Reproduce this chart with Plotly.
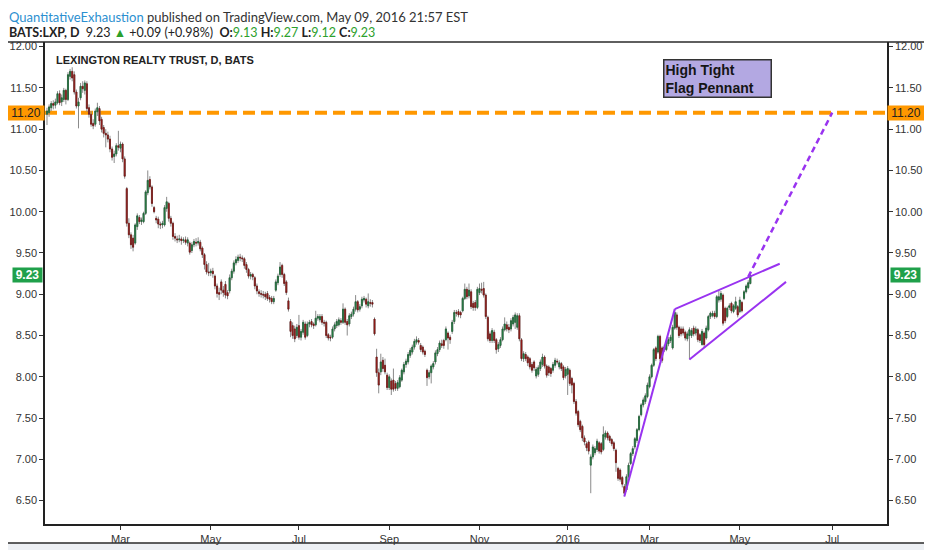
import numpy as np
import pandas as pd
import plotly.graph_objects as go

# BATS:LXP daily bars, 2015-01-08 .. 2016-05-09
open_ = [
    11.18, 11.20, 11.26, 11.31, 11.29, 11.32, 11.43, 11.33, 11.36, 11.47,
    11.36, 11.64, 11.70, 11.66, 11.45, 11.28, 11.38, 11.52, 11.47, 11.55,
    11.26, 11.18, 11.07, 11.06, 11.21, 11.25, 11.12, 11.02, 10.95, 10.93,
    10.88, 10.76, 10.67, 10.70, 10.80, 10.77, 10.82, 10.64, 10.28, 9.86,
    9.72, 9.68, 9.62, 9.82, 9.93, 9.88, 9.88, 9.98, 10.23, 10.39,
    10.30, 10.05, 9.92, 9.91, 9.85, 9.84, 9.84, 10.04, 10.10, 9.92,
    9.86, 9.70, 9.67, 9.66, 9.67, 9.65, 9.66, 9.62, 9.62, 9.53,
    9.60, 9.63, 9.62, 9.63, 9.56, 9.48, 9.36, 9.27, 9.26, 9.28,
    9.22, 9.10, 9.02, 9.15, 9.05, 9.12, 9.02, 9.04, 9.20, 9.28,
    9.38, 9.41, 9.45, 9.44, 9.43, 9.36, 9.30, 9.22, 9.24, 9.20,
    9.10, 9.03, 9.01, 9.00, 9.00, 9.01, 8.96, 8.95, 8.91, 9.05,
    9.14, 9.24, 9.35, 9.24, 9.15, 8.92, 8.67, 8.62, 8.58, 8.50,
    8.62, 8.48, 8.54, 8.64, 8.50, 8.64, 8.67, 8.64, 8.63, 8.71,
    8.69, 8.73, 8.66, 8.66, 8.51, 8.48, 8.48, 8.58, 8.62, 8.63,
    8.68, 8.66, 8.82, 8.67, 8.64, 8.73, 8.76, 8.82, 8.91, 8.82,
    8.86, 8.93, 8.94, 8.86, 8.90, 8.90, 8.70, 8.24, 8.05, 8.06,
    8.20, 8.14, 8.02, 7.87, 7.95, 7.96, 7.92, 7.86, 7.88, 7.96,
    8.06, 8.15, 8.18, 8.26, 8.30, 8.36, 8.42, 8.44, 8.38, 8.36,
    8.31, 8.08, 8.00, 8.05, 8.12, 8.18, 8.28, 8.33, 8.40, 8.44,
    8.45, 8.53, 8.48, 8.55, 8.67, 8.78, 8.79, 8.78, 8.80, 8.95,
    9.06, 8.98, 9.03, 8.89, 8.90, 8.84, 9.02, 9.06, 9.07, 8.99,
    8.72, 8.52, 8.44, 8.54, 8.45, 8.34, 8.38, 8.45, 8.57, 8.63,
    8.60, 8.58, 8.64, 8.66, 8.60, 8.74, 8.45, 8.22, 8.27, 8.24,
    8.22, 8.15, 8.18, 8.01, 8.03, 8.10, 8.15, 8.24, 8.13, 8.12,
    8.10, 8.08, 8.14, 8.19, 8.12, 8.16, 8.12, 8.01, 8.03, 8.08,
    7.98, 7.92, 7.70, 7.58, 7.46, 7.40, 7.26, 7.19, 7.21, 6.93,
    7.03, 7.08, 7.12, 7.20, 7.19, 7.12, 7.27, 7.32, 7.28, 7.24,
    7.20, 7.11, 6.89, 6.87, 6.78, 6.67, 6.63, 6.79, 6.95, 7.07,
    7.15, 7.23, 7.36, 7.54, 7.66, 7.70, 7.76, 7.88, 8.00, 8.14,
    8.35, 8.30, 8.49, 8.35, 8.36, 8.33, 8.40, 8.44, 8.35, 8.59,
    8.75, 8.60, 8.58, 8.58, 8.54, 8.46, 8.50, 8.50, 8.59, 8.53,
    8.57, 8.51, 8.39, 8.53, 8.47, 8.57, 8.73, 8.74, 8.77, 8.73,
    8.93, 8.94, 8.99, 8.83, 8.73, 8.84, 8.89, 8.79, 8.83, 8.85,
    8.79, 8.90, 8.95, 9.03, 9.08, 9.13,
]
high = [
    11.26, 11.30, 11.34, 11.35, 11.37, 11.46, 11.47, 11.42, 11.50, 11.49,
    11.69, 11.73, 11.75, 11.70, 11.48, 11.38, 11.56, 11.58, 11.59, 11.58,
    11.30, 11.22, 11.12, 11.25, 11.32, 11.28, 11.15, 11.05, 11.00, 10.97,
    10.92, 10.79, 10.74, 10.83, 10.98, 10.85, 10.84, 10.67, 10.30, 9.92,
    9.75, 9.72, 9.86, 9.98, 9.96, 9.93, 10.00, 10.26, 10.50, 10.43,
    10.32, 10.07, 9.95, 9.94, 9.88, 9.89, 10.08, 10.18, 10.12, 9.95,
    9.88, 9.74, 9.71, 9.72, 9.70, 9.69, 9.70, 9.69, 9.64, 9.63,
    9.67, 9.68, 9.69, 9.66, 9.58, 9.50, 9.40, 9.38, 9.31, 9.32,
    9.24, 9.13, 9.08, 9.18, 9.10, 9.16, 9.05, 9.24, 9.31, 9.41,
    9.46, 9.48, 9.49, 9.47, 9.45, 9.39, 9.32, 9.27, 9.26, 9.22,
    9.13, 9.06, 9.05, 9.04, 9.03, 9.04, 8.99, 8.98, 8.98, 9.18,
    9.25, 9.39, 9.37, 9.26, 9.17, 8.96, 8.70, 8.66, 8.62, 8.64,
    8.75, 8.58, 8.69, 8.67, 8.67, 8.69, 8.70, 8.66, 8.80, 8.76,
    8.76, 8.76, 8.69, 8.68, 8.53, 8.51, 8.61, 8.66, 8.70, 8.72,
    8.71, 8.89, 8.84, 8.70, 8.77, 8.79, 8.85, 8.99, 8.93, 8.88,
    8.97, 8.98, 8.96, 9.01, 8.94, 8.93, 8.72, 8.34, 8.10, 8.28,
    8.24, 8.22, 8.05, 8.03, 7.98, 8.10, 7.95, 7.96, 8.02, 8.10,
    8.18, 8.22, 8.30, 8.35, 8.39, 8.46, 8.49, 8.47, 8.41, 8.38,
    8.33, 8.10, 8.08, 8.15, 8.19, 8.32, 8.36, 8.44, 8.45, 8.46,
    8.61, 8.55, 8.51, 8.69, 8.81, 8.81, 8.82, 8.80, 8.97, 9.13,
    9.09, 9.13, 9.06, 8.92, 8.93, 9.09, 9.13, 9.14, 9.15, 9.01,
    8.74, 8.55, 8.59, 8.57, 8.47, 8.42, 8.48, 8.61, 8.72, 8.67,
    8.64, 8.71, 8.75, 8.78, 8.77, 8.77, 8.47, 8.31, 8.30, 8.26,
    8.24, 8.18, 8.20, 8.12, 8.14, 8.21, 8.28, 8.26, 8.15, 8.14,
    8.12, 8.18, 8.23, 8.22, 8.20, 8.18, 8.14, 8.12, 8.13, 8.10,
    8.00, 7.94, 7.73, 7.60, 7.48, 7.42, 7.29, 7.22, 7.23, 7.06,
    7.18, 7.16, 7.25, 7.22, 7.21, 7.40, 7.35, 7.34, 7.30, 7.26,
    7.22, 7.13, 6.91, 6.89, 6.80, 6.70, 6.82, 6.96, 7.09, 7.16,
    7.27, 7.38, 7.54, 7.68, 7.75, 7.80, 7.93, 8.03, 8.16, 8.35,
    8.37, 8.51, 8.51, 8.37, 8.39, 8.45, 8.48, 8.51, 8.63, 8.81,
    8.78, 8.62, 8.61, 8.61, 8.56, 8.55, 8.60, 8.59, 8.62, 8.61,
    8.59, 8.53, 8.58, 8.55, 8.62, 8.75, 8.79, 8.80, 8.80, 8.99,
    9.05, 9.04, 9.01, 8.85, 8.85, 8.89, 8.91, 8.88, 8.97, 8.87,
    8.97, 8.92, 9.05, 9.12, 9.17, 9.27,
]
low = [
    11.05, 11.15, 11.22, 11.24, 11.25, 11.30, 11.29, 11.28, 11.33, 11.30,
    11.34, 11.60, 11.58, 11.42, 11.25, 11.01, 11.35, 11.44, 11.42, 11.21,
    11.14, 11.03, 11.00, 11.03, 11.16, 11.05, 10.96, 10.90, 10.78, 10.84,
    10.72, 10.62, 10.59, 10.67, 10.74, 10.72, 10.60, 10.40, 9.82, 9.68,
    9.55, 9.52, 9.60, 9.78, 9.85, 9.84, 9.86, 9.96, 10.20, 10.27,
    10.06, 9.98, 9.86, 9.80, 9.79, 9.80, 9.82, 10.00, 9.88, 9.82,
    9.66, 9.64, 9.62, 9.63, 9.60, 9.62, 9.60, 9.58, 9.48, 9.50,
    9.57, 9.58, 9.59, 9.52, 9.44, 9.30, 9.24, 9.22, 9.22, 9.20,
    9.06, 8.96, 8.93, 9.00, 8.97, 8.95, 8.94, 9.01, 9.17, 9.25,
    9.35, 9.38, 9.40, 9.39, 9.31, 9.26, 9.19, 9.18, 9.17, 9.06,
    9.00, 8.97, 8.96, 8.95, 8.93, 8.92, 8.90, 8.88, 8.88, 9.03,
    9.11, 9.21, 9.20, 9.10, 8.99, 8.79, 8.48, 8.46, 8.42, 8.47,
    8.45, 8.44, 8.51, 8.45, 8.48, 8.60, 8.60, 8.58, 8.61, 8.68,
    8.66, 8.63, 8.61, 8.47, 8.44, 8.43, 8.46, 8.55, 8.59, 8.61,
    8.63, 8.64, 8.63, 8.50, 8.61, 8.70, 8.73, 8.79, 8.78, 8.79,
    8.83, 8.90, 8.84, 8.83, 8.85, 8.84, 8.50, 8.00, 7.80, 8.02,
    8.06, 8.03, 7.84, 7.84, 7.78, 7.82, 7.83, 7.83, 7.86, 7.94,
    8.03, 8.11, 8.15, 8.23, 8.27, 8.33, 8.39, 8.39, 8.30, 8.27,
    8.24, 7.89, 7.97, 7.92, 8.09, 8.15, 8.25, 8.30, 8.35, 8.34,
    8.43, 8.33, 8.40, 8.52, 8.64, 8.73, 8.72, 8.71, 8.78, 8.93,
    8.94, 8.95, 8.82, 8.80, 8.80, 8.82, 8.99, 9.01, 8.96, 8.70,
    8.43, 8.41, 8.41, 8.41, 8.28, 8.30, 8.35, 8.43, 8.55, 8.55,
    8.53, 8.55, 8.61, 8.58, 8.57, 8.43, 8.19, 8.18, 8.19, 8.13,
    8.09, 8.05, 8.07, 7.98, 8.00, 8.07, 8.12, 8.10, 7.99, 8.01,
    8.00, 8.05, 8.11, 8.15, 8.09, 8.07, 7.96, 7.98, 7.78, 7.89,
    7.80, 7.67, 7.53, 7.39, 7.33, 7.22, 7.17, 7.10, 7.06, 6.59,
    7.00, 7.05, 7.09, 7.07, 7.06, 7.10, 7.24, 7.23, 7.20, 7.16,
    7.10, 6.85, 6.74, 6.73, 6.66, 6.55, 6.61, 6.77, 6.93, 7.04,
    7.12, 7.20, 7.34, 7.52, 7.63, 7.67, 7.74, 7.86, 7.98, 8.12,
    8.19, 8.28, 8.19, 8.17, 8.30, 8.31, 8.37, 8.41, 8.33, 8.57,
    8.57, 8.47, 8.49, 8.50, 8.44, 8.43, 8.21, 8.47, 8.49, 8.50,
    8.42, 8.41, 8.38, 8.36, 8.45, 8.55, 8.70, 8.72, 8.70, 8.71,
    8.90, 8.91, 8.62, 8.65, 8.71, 8.81, 8.77, 8.77, 8.81, 8.72,
    8.77, 8.78, 8.93, 9.01, 9.06, 9.12,
]
close = [
    11.22, 11.27, 11.31, 11.29, 11.33, 11.43, 11.32, 11.38, 11.47, 11.36,
    11.66, 11.70, 11.62, 11.45, 11.28, 11.33, 11.52, 11.49, 11.56, 11.25,
    11.18, 11.06, 11.04, 11.22, 11.26, 11.10, 11.00, 10.95, 10.93, 10.88,
    10.76, 10.66, 10.70, 10.80, 10.78, 10.82, 10.64, 10.43, 9.86, 9.72,
    9.60, 9.57, 9.84, 9.95, 9.88, 9.90, 9.98, 10.24, 10.38, 10.30,
    10.10, 10.00, 9.90, 9.85, 9.84, 9.86, 10.05, 10.12, 9.92, 9.86,
    9.70, 9.68, 9.66, 9.67, 9.65, 9.66, 9.63, 9.66, 9.51, 9.60,
    9.64, 9.62, 9.64, 9.55, 9.48, 9.36, 9.27, 9.26, 9.28, 9.25,
    9.10, 9.01, 9.00, 9.05, 9.02, 8.99, 8.98, 9.20, 9.28, 9.38,
    9.42, 9.45, 9.44, 9.43, 9.35, 9.30, 9.22, 9.24, 9.21, 9.10,
    9.04, 9.01, 9.00, 8.99, 8.97, 8.95, 8.94, 8.91, 8.95, 9.15,
    9.22, 9.33, 9.24, 9.13, 9.02, 8.82, 8.55, 8.50, 8.46, 8.60,
    8.48, 8.55, 8.66, 8.48, 8.64, 8.66, 8.63, 8.62, 8.71, 8.73,
    8.73, 8.66, 8.65, 8.50, 8.47, 8.47, 8.58, 8.63, 8.67, 8.69,
    8.66, 8.82, 8.66, 8.63, 8.74, 8.76, 8.82, 8.91, 8.81, 8.85,
    8.94, 8.95, 8.88, 8.91, 8.89, 8.88, 8.52, 8.05, 7.90, 8.18,
    8.10, 8.06, 7.87, 8.00, 7.85, 7.85, 7.86, 7.93, 7.99, 8.08,
    8.15, 8.19, 8.27, 8.32, 8.36, 8.43, 8.45, 8.42, 8.33, 8.30,
    8.27, 7.99, 8.05, 8.13, 8.16, 8.29, 8.33, 8.41, 8.38, 8.38,
    8.58, 8.47, 8.45, 8.66, 8.78, 8.77, 8.75, 8.75, 8.95, 9.06,
    8.97, 9.05, 8.85, 8.84, 8.84, 9.06, 9.07, 9.05, 8.99, 8.73,
    8.46, 8.44, 8.56, 8.44, 8.33, 8.39, 8.45, 8.58, 8.64, 8.58,
    8.57, 8.68, 8.72, 8.75, 8.74, 8.46, 8.22, 8.28, 8.22, 8.17,
    8.12, 8.08, 8.11, 8.09, 8.11, 8.18, 8.24, 8.13, 8.02, 8.05,
    8.04, 8.15, 8.20, 8.18, 8.17, 8.10, 7.99, 8.09, 8.10, 7.92,
    7.90, 7.70, 7.56, 7.42, 7.36, 7.26, 7.21, 7.14, 7.10, 7.03,
    7.15, 7.13, 7.22, 7.10, 7.09, 7.30, 7.32, 7.26, 7.23, 7.19,
    7.13, 6.96, 6.77, 6.76, 6.70, 6.59, 6.79, 6.93, 7.07, 7.13,
    7.25, 7.36, 7.52, 7.66, 7.72, 7.77, 7.90, 8.00, 8.14, 8.33,
    8.22, 8.49, 8.22, 8.20, 8.33, 8.43, 8.45, 8.48, 8.60, 8.78,
    8.60, 8.50, 8.52, 8.53, 8.47, 8.52, 8.57, 8.56, 8.52, 8.58,
    8.45, 8.44, 8.55, 8.39, 8.59, 8.73, 8.77, 8.77, 8.73, 8.97,
    8.97, 9.01, 8.65, 8.68, 8.83, 8.86, 8.80, 8.86, 8.91, 8.75,
    8.93, 8.80, 9.03, 9.10, 9.14, 9.23,
]

HOLIDAYS = ["2015-01-19", "2015-02-16", "2015-04-03", "2015-05-25", "2015-07-03",
            "2015-09-07", "2015-11-26", "2015-12-25", "2016-01-01", "2016-01-18",
            "2016-02-15", "2016-03-25"]

tick_months = ["2015-03-01", "2015-05-01", "2015-07-01", "2015-09-01", "2015-11-01",
               "2016-01-01", "2016-03-01", "2016-05-01", "2016-07-01"]
tick_text = ["Mar", "May", "Jul", "Sep", "Nov", "2016", "Mar", "May", "Jul"]

# drawn lines: (dates, prices)
rise_dates, rise_px = ["2016-02-11", "2016-03-17"], [6.55, 8.82]
upper_dates, upper_px = ["2016-03-17", "2016-05-27"], [8.82, 9.37]
lower_dates, lower_px = ["2016-03-29", "2016-06-01"], [8.21, 9.15]
proj_dates, proj_px = ["2016-05-06", "2016-07-01"], [9.21, 11.20]
resistance = 11.20
last_price = 9.23

assert len(open_) == len(high) == len(low) == len(close) == 336

# TradingView x axis: one slot per bar, future padded with plain weekdays
trading = pd.bdate_range("2015-01-08", "2016-05-09", freq="C", holidays=HOLIDAYS)
future = pd.bdate_range("2016-05-10", periods=80)
days = trading.append(future)


def bar(d):
    return int(days.searchsorted(pd.Timestamp(d)))


xi = np.arange(len(close))
o, h, l, c = map(np.array, (open_, high, low, close))

FONT = "Liberation Sans, Arial, sans-serif"
GREEN = "#2a9a50"
RED = "#b5221f"
PURPLE = "#9933f0"
ORANGE = "#ff9800"

fig = go.Figure()

# wicks (grey)
fig.add_trace(go.Candlestick(
    x=xi, open=o, high=h, low=l, close=c,
    increasing=dict(line=dict(color="#8a8a8a", width=1), fillcolor="#8a8a8a"),
    decreasing=dict(line=dict(color="#8a8a8a", width=1), fillcolor="#8a8a8a"),
    whiskerwidth=0, hoverinfo="skip", showlegend=False))

# bodies on top
fig.add_trace(go.Candlestick(
    x=xi, open=o, high=np.maximum(o, c), low=np.minimum(o, c), close=c,
    increasing=dict(line=dict(color="#1d5e33", width=0.7), fillcolor=GREEN),
    decreasing=dict(line=dict(color="#6e1512", width=0.7), fillcolor=RED),
    whiskerwidth=0, showlegend=False))

for dts, pxs, dash, w in [(rise_dates, rise_px, "solid", 2),
                          (upper_dates, upper_px, "solid", 2),
                          (lower_dates, lower_px, "solid", 2),
                          (proj_dates, proj_px, "6px,4px", 2.5)]:
    fig.add_trace(go.Scatter(x=[bar(d) for d in dts], y=pxs, mode="lines",
                             line=dict(color=PURPLE, width=w, dash=dash),
                             yaxis="y2", hoverinfo="skip", showlegend=False))

# the page body adds an 8px margin, so the figure is drawn 8px smaller
BODY = 8
W, H = 932 - BODY, 550 - BODY
PW, PH = 842, 482
ML, MT = 45 - BODY, 42 - BODY
MB = H - MT - PH
MR = W - ML - PW


# positions below are in screenshot pixels
def px_x(p):
    return (p - BODY - ML) / PW


def px_y(p):
    return (BODY + MT + PH - p) / PH


shapes = [
    dict(type="rect", xref="paper", yref="paper", layer="below",
         x0=px_x(0), x1=px_x(940), y0=px_y(560), y1=px_y(42),
         fillcolor="#edf0f4", line=dict(width=0)),
    dict(type="rect", xref="paper", yref="paper", layer="below",
         x0=px_x(7), x1=px_x(926), y0=px_y(543), y1=px_y(42),
         fillcolor="white", line=dict(color="#2b2b2b", width=1.5)),
    dict(type="line", xref="paper", yref="y", layer="below",
         x0=0, x1=1, y0=resistance, y1=resistance,
         line=dict(color=ORANGE, width=4, dash="12px,6px")),
]

G = "#2ca02c"
hdr1 = ('<span style="color:#2b8fd0">QuantitativeExhaustion</span>'
        ' published on TradingView.com, May 09, 2016 21:57 EST')
hdr2 = ('<b>BATS:LXP, D</b>&nbsp; 9.23 <span style="color:%s">▲</span> +0.09 (+0.98%%)&nbsp; '
        '<b>O:</b><span style="color:%s">%.2f</span> <b>H:</b><span style="color:%s">%.2f</span> '
        '<b>L:</b><span style="color:%s">%.2f</span> <b>C:</b><span style="color:%s">%.2f</span>'
        % (G, G, open_[-1], G, high[-1], G, low[-1], G, close[-1]))

annotations = [
    dict(text=hdr1, xref="paper", yref="paper", x=px_x(7), y=px_y(17),
         xanchor="left", yanchor="middle", showarrow=False,
         font=dict(family="Lato, sans-serif", size=13, color="#333")),
    dict(text=hdr2, xref="paper", yref="paper", x=px_x(7), y=px_y(32),
         xanchor="left", yanchor="middle", showarrow=False,
         font=dict(family="Lato, sans-serif", size=12.5, color="#222")),
    dict(text="<b>LEXINGTON REALTY TRUST, D, BATS</b>", xref="paper", yref="paper",
         x=px_x(54), y=px_y(60), xanchor="left", yanchor="middle", showarrow=False,
         font=dict(family=FONT, size=11, color="#222")),
    dict(text="<b>High Tight<br>Flag Pennant</b>", xref="paper", yref="paper",
         x=px_x(663), y=px_y(59), xanchor="left", yanchor="top", showarrow=False,
         align="left", width=104, borderpad=1, bgcolor="#b3a8e2",
         bordercolor="#333", borderwidth=1.5,
         font=dict(family=FONT, size=14, color="#151515")),
]
for side in ("left", "right"):
    xa = 0 if side == "left" else 1
    anchor = "right" if side == "left" else "left"
    annotations.append(dict(
        text="%.2f" % resistance, xref="paper", yref="y", x=xa, y=resistance,
        xanchor=anchor, yanchor="middle", showarrow=False,
        width=36, height=14, borderpad=0, bgcolor=ORANGE,
        font=dict(family=FONT, size=12, color="#222")))
    annotations.append(dict(
        text="<b>%.2f</b>" % last_price, xref="paper", yref="y", x=xa, y=last_price,
        xanchor=anchor, yanchor="middle", showarrow=False,
        xshift=-2 if side == "left" else 3,
        width=29, height=14, borderpad=0, bgcolor="#1fa04a",
        font=dict(family=FONT, size=12, color="white")))

axis_common = dict(showgrid=False, zeroline=False, showline=True, linecolor="#222",
                   linewidth=1.5, ticks="outside", ticklen=4, tickcolor="#333",
                   automargin=False,
                   tickfont=dict(family=FONT, size=11, color="#333"))

fig.update_layout(
    width=W, height=H, autosize=False,
    margin=dict(l=ML, r=MR, t=MT, b=MB),
    paper_bgcolor="white", plot_bgcolor="white",
    showlegend=False, hovermode=False,
    xaxis=dict(range=[-0.95, 400.1], tickmode="array",
               tickvals=[bar(m) for m in tick_months], ticktext=tick_text,
               rangeslider=dict(visible=False), **axis_common),
    yaxis=dict(range=[6.217, 12.056], dtick=0.5, tick0=0, tickformat=".2f",
               side="left", **axis_common),
    yaxis2=dict(matches="y", overlaying="y", side="right", dtick=0.5, tick0=0,
                tickformat=".2f", **axis_common),
    shapes=shapes, annotations=annotations,
)

fig.write_html("out.html")
